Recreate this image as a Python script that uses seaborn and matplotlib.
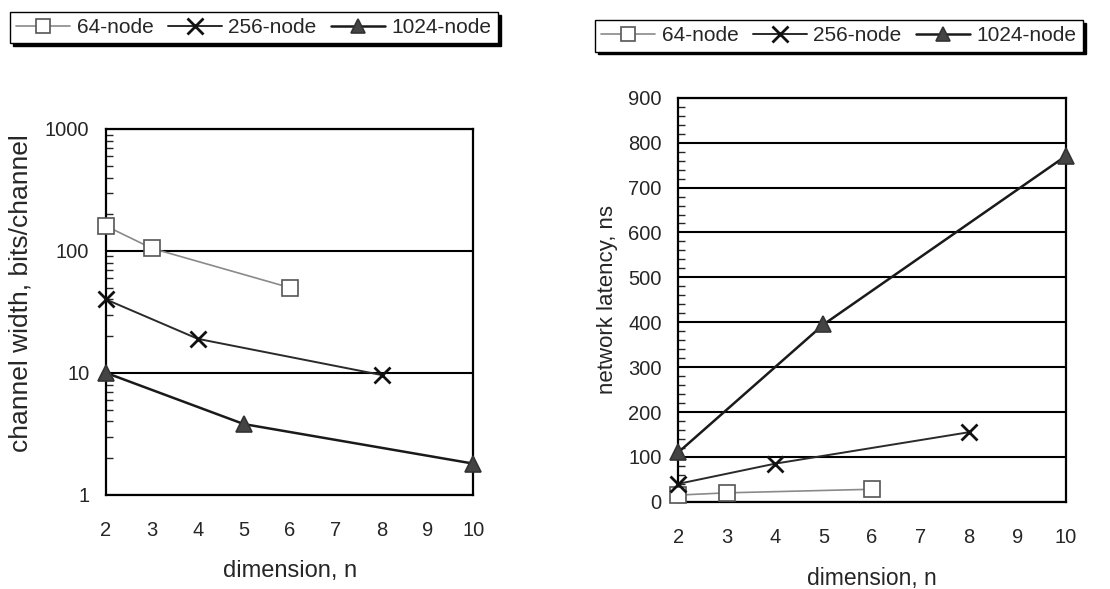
import numpy as np
import pandas as pd
import matplotlib.pyplot as plt
import matplotlib.ticker as mticker
from matplotlib.lines import Line2D
import seaborn as sns

series = ['64-node', '256-node', '1024-node']

dim_64 = [2, 3, 6]
dim_256 = [2, 4, 8]
dim_1024 = [2, 5, 10]

width_64 = [160, 105, 50]
width_256 = [40, 19, 9.6]
width_1024 = [10, 3.8, 1.8]

latency_64 = [15, 20, 28]
latency_256 = [40, 85, 155]
latency_1024 = [110, 395, 770]

dims = [dim_64, dim_256, dim_1024]
widths = [width_64, width_256, width_1024]
latencies = [latency_64, latency_256, latency_1024]

styles = {
    '64-node': dict(marker='s', color='#8a8a8a', mfc='white', mec='#555555', ms=11, lw=1.2),
    '256-node': dict(marker='x', color='#2a2a2a', mfc='none', mec='#111111', ms=12, lw=1.4, mew=2),
    '1024-node': dict(marker='^', color='#1a1a1a', mfc='#444444', mec='#333333', ms=11, lw=1.8),
}

sns.set_style('white')
plt.rcParams['font.family'] = ['Liberation Sans', 'DejaVu Sans']
plt.rcParams['font.size'] = 14

fig = plt.figure(figsize=(11.1, 5.89), dpi=100)
ax1 = fig.add_axes([0.0955, 0.160, 0.331, 0.621])
ax2 = fig.add_axes([0.611, 0.148, 0.349, 0.686])


def draw(ax, yvals):
    for name, x, y in zip(series, dims, yvals):
        st = styles[name]
        sns.lineplot(x=x, y=y, ax=ax, color=st['color'], lw=st['lw'],
                     marker=st['marker'], markersize=st['ms'],
                     markerfacecolor=st['mfc'], markeredgecolor=st['mec'],
                     markeredgewidth=st.get('mew', 1.2), legend=False, zorder=3, clip_on=False)
    ax.set_xlim(2, 10)
    ax.set_xticks(range(2, 11))
    ax.tick_params(axis='x', direction='inout', length=12, width=1.3, labelsize=14.5, pad=13)
    ax.tick_params(axis='y', which='major', direction='out', length=8, width=1.3, labelsize=14.5, pad=4)
    ax.tick_params(axis='y', which='minor', direction='in', length=5, width=1.0, left=True)
    for sp in ax.spines.values():
        sp.set_color('black')
        sp.set_linewidth(1.6)
    ax.grid(axis='y', which='major', color='black', lw=1.5)
    ax.grid(axis='x', visible=False)


draw(ax1, widths)
ax1.set_yscale('log')
ax1.set_ylim(1, 1000)
ax1.yaxis.set_major_locator(mticker.FixedLocator([1, 10, 100, 1000]))
ax1.yaxis.set_major_formatter(mticker.FuncFormatter(lambda v, p: f'{v:g}'))
ax1.yaxis.set_minor_locator(mticker.LogLocator(base=10, subs=np.arange(2, 10)))
ax1.yaxis.set_minor_formatter(mticker.NullFormatter())
ax1.set_ylabel('channel width, bits/channel', fontsize=19)
ax1.yaxis.set_label_coords(-0.2, 0.55)
ax1.set_xlabel('dimension, n', fontsize=17, labelpad=14)

draw(ax2, latencies)
ax2.set_ylim(0, 900)
ax2.set_yticks(range(0, 901, 100))
ax2.yaxis.set_minor_locator(mticker.MultipleLocator(20))
ax2.set_ylabel('network latency, ns', fontsize=16, labelpad=7)
ax2.set_xlabel('dimension, n', fontsize=16.5, labelpad=14)

handles = [Line2D([], [], color=styles[n]['color'], lw=styles[n]['lw'], marker=styles[n]['marker'],
                  markersize=styles[n]['ms'] - 1, markerfacecolor=styles[n]['mfc'],
                  markeredgecolor=styles[n]['mec'], markeredgewidth=styles[n].get('mew', 1.2))
           for n in series]

for anchor in [(0.009, 0.980), (0.536, 0.966)]:
    fig.legend(handles, series, loc='upper left', bbox_to_anchor=anchor, borderaxespad=0,
               ncol=3, frameon=True, fancybox=False, edgecolor='black',
               shadow={'color': 'black', 'alpha': 1}, fontsize=15,
               handlelength=2.6, handletextpad=0.3, columnspacing=0.7,
               borderpad=0.3, framealpha=1)

fig.savefig('out.png', dpi=100)
